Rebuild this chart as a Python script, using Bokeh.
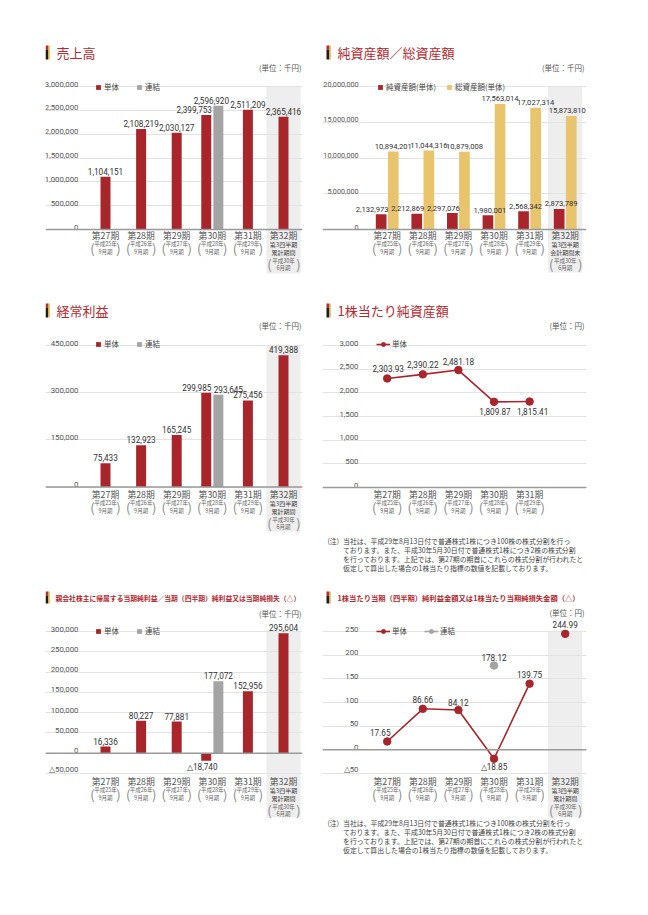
from bokeh.plotting import figure
from bokeh.models import Range1d, FixedTicker, Legend, LegendItem, Span
from bokeh.layouts import column, row
from bokeh.core.properties import value
from bokeh.embed import file_html
from bokeh.resources import INLINE

# ---------------- data ----------------
periods = ["第27期", "第28期", "第29期", "第30期", "第31期", "第32期"]
period_years = ["平成25年", "平成26年", "平成27年", "平成28年", "平成29年", "平成30年"]
period_months = ["9月期", "9月期", "9月期", "9月期", "9月期", "6月期"]
q3_cumulative = ["第3四半期", "累計期間"]
q3_period_end = ["第3四半期", "会計期間末"]

sales_single = [1104151, 2108219, 2030127, 2399753, 2511209, 2365416]
sales_consol = [None, None, None, 2596920, None, None]
net_assets = [2132973, 2212869, 2297076, 1980001, 2568342, 2873789]
total_assets = [10894201, 11044316, 10879008, 17563014, 17027314, 15873810]
ordinary_single = [75433, 132923, 165245, 299985, 275456, 419388]
ordinary_consol = [None, None, None, 293645, None, None]
bps_single = [2303.93, 2390.22, 2481.18, 1809.87, 1815.41]
profit_single = [16336, 80227, 77881, -18740, 152956, 295604]
profit_consol = [None, None, None, 177072, None, None]
eps_single = [17.65, 86.66, 84.12, -18.85, 139.75, 244.99]
eps_consol = [None, None, None, 178.12, None, None]

ticks_sales = [0, 500000, 1000000, 1500000, 2000000, 2500000, 3000000]
tick_labels_sales = ["0", "500,000", "1,000,000", "1,500,000", "2,000,000", "2,500,000", "3,000,000"]
ticks_assets = [0, 5000000, 10000000, 15000000, 20000000]
tick_labels_assets = ["0", "5,000,000", "10,000,000", "15,000,000", "20,000,000"]
ticks_ordinary = [0, 150000, 300000, 450000]
tick_labels_ordinary = ["0", "150,000", "300,000", "450,000"]
ticks_bps = [0, 500, 1000, 1500, 2000, 2500, 3000]
tick_labels_bps = ["0", "500", "1,000", "1,500", "2,000", "2,500", "3,000"]
ticks_profit = [-50000, 0, 50000, 100000, 150000, 200000, 250000, 300000]
tick_labels_profit = ["△50,000", "0", "50,000", "100,000", "150,000", "200,000", "250,000", "300,000"]
ticks_eps = [-50, 0, 50, 100, 150, 200, 250]
tick_labels_eps = ["△50", "0", "50", "100", "150", "200", "250"]

title_sales = "売上高"
title_assets = "純資産額／総資産額"
title_ordinary = "経常利益"
title_bps = "1株当たり純資産額"
title_profit = "親会社株主に帰属する当期純利益／当期（四半期）純利益又は当期純損失（△）"
title_eps = "1株当たり当期（四半期）純利益金額又は1株当たり当期純損失金額（△）"
unit_thousand = "(単位：千円)"
unit_yen = "(単位：円)"
legend_single = "単体"
legend_consol = "連結"
legend_net_assets = "純資産額(単体)"
legend_total_assets = "総資産額(単体)"
note_head = "(注)"
note_lines = [
    "当社は、平成29年8月13日付で普通株式1株につき100株の株式分割を行っ",
    "ております。また、平成30年5月30日付で普通株式1株につき2株の株式分割",
    "を行っております。上記では、第27期の期首にこれらの株式分割が行われたと",
    "仮定して算出した場合の1株当たり指標の数値を記載しております。",
]

# ---------------- style ----------------
RED = "#a8262b"
GRAY = "#a4a4a4"
GOLD = "#e8c46d"
SHADE = "#eeeeee"
GRID = "#e3e3e3"
BASE = "#9a9a9a"
TITLE_RED = "#b12a2f"
TXT = "#333333"
TICK_TXT = "#555555"
FONT_JP = "Noto Sans CJK JP"
FONT_NUM = "Roboto"
BAR_W = 0.28
PAIR_OFF = 0.17
LEG_DX = 7
LEG_DY = 9


def fmt(v, dec=0):
    s = f"{abs(v):,.{dec}f}"
    return ("△" + s) if v < 0 else s


def make_panel(side, top, height, v1, py1, v2, py2):
    if side == "L":
        pg_left, W, fl, fr, cat0 = 8, 314, 53, 310, 113.0
    else:
        pg_left, W, fl, fr, cat0 = 322, 318, 330, 594, 394.7
    step = 35.6
    xs = (fl - cat0) / step
    xe = (fr - cat0) / step
    k = (py2 - py1) / (v1 - v2)
    ye = v1 + (py1 - top) / k
    ys = v1 - (top + height - py1) / k
    p = figure(width=W, height=height, x_range=Range1d(xs, xe), y_range=Range1d(ys, ye),
               output_backend="svg", toolbar_location=None,
               x_axis_location=None, y_axis_location=None,
               min_border_left=fl - pg_left, min_border_right=pg_left + W - fr,
               min_border_top=0, min_border_bottom=0)
    p.outline_line_color = None
    p.background_fill_color = None
    p.border_fill_color = None
    p.xgrid.visible = False

    def X(px):
        return (px - cat0) / step

    def Y(py):
        return ye - (py - top) / k

    info = dict(side=side, fl=fl, fr=fr, top=top, height=height, X=X, Y=Y)
    return p, info


def txt(p, x, y, text, size, color, align="left", baseline="middle", font=FONT_JP,
        style="normal", x_off=0, y_off=0):
    p.text(x=x, y=y, text=text, text_font=value(font), text_font_size=value(f"{size}px"),
           text_color=color, text_align=align, text_baseline=baseline,
           text_font_style=style, x_offset=x_off, y_offset=y_off)


def decorate(p, info, title, title_py, title_size, title_style, unit, unit_py,
             ticks, tick_labels, n_cats, cat_py, sub32=None, shade_bottom=None, tick_size=7.8):
    X, Y = info["X"], info["Y"]
    left = info["side"] == "L"
    # shaded column for the 32nd period
    if sub32 is not None:
        p.quad(left=[5 - 0.48], right=[5 + 0.48], top=[max(ticks)], bottom=[Y(shade_bottom)],
               fill_color=SHADE, line_color=None, level="image")
    # grid
    p.ygrid.ticker = FixedTicker(ticks=ticks)
    p.ygrid.grid_line_color = GRID
    p.ygrid.grid_line_width = 1
    p.add_layout(Span(location=0, dimension="width", line_color=BASE, line_width=1.5))
    # tick labels
    tx = X(86 if left else 366)
    txt(p, [tx] * len(ticks), ticks, tick_labels, tick_size, TICK_TXT, align="right",
        baseline="bottom", font=FONT_NUM, y_off=0)
    # title icon
    ix = 53 if left else 334
    ih = 7 if title_size > 10 else 6
    p.quad(left=[X(ix)], right=[X(ix + 2.5)], top=[Y(title_py - ih)], bottom=[Y(title_py - ih + 4)],
           fill_color="#c3272d", line_color=None)
    p.quad(left=[X(ix)], right=[X(ix + 2.5)], top=[Y(title_py - ih + 4)], bottom=[Y(title_py + ih)],
           fill_color="#1c1c1c", line_color=None)
    p.quad(left=[X(ix + 2.5)], right=[X(ix + 4.2)], top=[Y(title_py - ih)], bottom=[Y(title_py + ih)],
           fill_color="#dcae4c", line_color=None)
    # title text
    tl = (64 if left else 345) if title_size > 10 else (63 if left else 345)
    txt(p, [X(tl)], [Y(title_py)], [title], title_size, TITLE_RED, style=title_style)
    # unit
    txt(p, [X(309 if left else 592)], [Y(unit_py)], [unit], 7.5, TICK_TXT, align="right")
    # category labels
    idx = list(range(n_cats))
    txt(p, idx, [Y(cat_py)] * n_cats, periods[:n_cats], 8.8, "#555555", align="center")
    m = min(n_cats, 5)
    txt(p, idx[:m], [Y(cat_py + 8.8)] * m, period_years[:m], 5.5, "#666666", align="center")
    txt(p, idx[:m], [Y(cat_py + 16.5)] * m, period_months[:m], 5.5, "#666666", align="center")
    txt(p, idx[:m], [Y(cat_py + 12.5)] * m, ["("] * m, 13, "#8a8a8a", align="center", x_off=-13)
    txt(p, idx[:m], [Y(cat_py + 12.5)] * m, [")"] * m, 13, "#8a8a8a", align="center", x_off=13)
    if sub32 is not None:
        txt(p, [5, 5], [Y(cat_py + 9), Y(cat_py + 17)], sub32, 6, "#444444", align="center")
        txt(p, [5, 5], [Y(cat_py + 25), Y(cat_py + 32)], [period_years[5], period_months[5]],
            5.5, "#666666", align="center")
        txt(p, [5], [Y(cat_py + 28.5)], ["("], 13, "#8a8a8a", align="center", x_off=-14)
        txt(p, [5], [Y(cat_py + 28.5)], [")"], 13, "#8a8a8a", align="center", x_off=15)


def add_legend(p, info, items, px_x, py_center, line=False, spacing=12):
    h = 10
    leg = Legend(items=items,
                 location=(px_x + LEG_DX - info["fl"],
                           info["top"] + info["height"] - (py_center + LEG_DY + h / 2)),
                 orientation="horizontal",
                 glyph_width=14 if line else 6, glyph_height=10 if line else 6,
                 label_standoff=2 if line else 3, spacing=spacing, padding=0, margin=0,
                 label_text_font=FONT_JP, label_text_font_size="7.5px", label_text_color="#444444",
                 label_height=6, border_line_color=None, background_fill_alpha=0)
    p.add_layout(leg)


def value_labels(p, xs, vals, texts, dxs, dys, size=8.2):
    p.text(x=xs, y=vals, text=texts, x_offset=dxs, y_offset=dys, text_align="center",
           text_baseline="middle", text_font=value(FONT_NUM), text_font_size=value(f"{size}px"),
           text_color=TXT)


def note(p, info, first_py):
    X, Y = info["X"], info["Y"]
    txt(p, [X(335)], [Y(first_py)], [note_head], 6.9, "#444444")
    txt(p, [X(350.5)] * 4, [Y(first_py + 9.1 * i) for i in range(4)], note_lines, 6.9, "#444444")


def single_consol_bars(p, single, consol, label_dx_single, label_dx_consol, dy_single):
    xs_s = [i - PAIR_OFF if consol[i] is not None else i for i in range(len(single))]
    r1 = p.vbar(x=xs_s, top=single, bottom=0, width=BAR_W, fill_color=RED, line_color=None)
    ci = [i for i in range(len(consol)) if consol[i] is not None]
    xs_c = [i + PAIR_OFF for i in ci]
    cv = [consol[i] for i in ci]
    r2 = p.vbar(x=xs_c, top=cv, bottom=0, width=BAR_W, fill_color=GRAY, line_color=None)
    value_labels(p, xs_s, single, [fmt(v) for v in single], label_dx_single, dy_single)
    value_labels(p, xs_c, cv, [fmt(v) for v in cv], label_dx_consol, [-5.5] * len(cv))
    return r1, r2


# ---------------- panel 1: 売上高 ----------------
p1, i1 = make_panel("L", 8, 292, 3000000, 94, 0, 237)
decorate(p1, i1, title_sales, 60, 13, "normal", unit_thousand, 75, ticks_sales, tick_labels_sales,
         6, 243, sub32=q3_cumulative, shade_bottom=281)
r1, r2 = single_consol_bars(p1, sales_single, sales_consol, [0, 0, 0, -12, 0, 0], [-7], [-5.5] * 6)
add_legend(p1, i1, [LegendItem(label=legend_single, renderers=[r1]),
                    LegendItem(label=legend_consol, renderers=[r2])], 96, 86)

# ---------------- panel 2: 純資産額／総資産額 ----------------
p2, i2 = make_panel("R", 8, 292, 20000000, 94, 0, 237)
decorate(p2, i2, title_assets, 60, 13, "normal", unit_thousand, 75, ticks_assets, tick_labels_assets,
         6, 243, sub32=q3_period_end, shade_bottom=280, tick_size=7.2)
xa = [i - PAIR_OFF for i in range(6)]
xb = [i + PAIR_OFF for i in range(6)]
ra = p2.vbar(x=xa, top=net_assets, bottom=0, width=0.3, fill_color=RED, line_color=None)
rb = p2.vbar(x=xb, top=total_assets, bottom=0, width=0.3, fill_color=GOLD, line_color=None)
value_labels(p2, xa, net_assets, [fmt(v) for v in net_assets], [-9, -9, -9, 2, 2, 2], [-5] * 6, size=7.6)
value_labels(p2, xb, total_assets, [fmt(v) for v in total_assets], [0, 0, 0, 0, 0, -4], [-5.5] * 6, size=7.6)
add_legend(p2, i2, [LegendItem(label=legend_net_assets, renderers=[ra]),
                    LegendItem(label=legend_total_assets, renderers=[rb])], 378, 86, spacing=10)

# ---------------- panel 3: 経常利益 ----------------
p3, i3 = make_panel("L", 300, 290, 450000, 353, 0, 494.5)
decorate(p3, i3, title_ordinary, 318, 13, "normal", unit_thousand, 333, ticks_ordinary,
         tick_labels_ordinary, 6, 502, sub32=q3_cumulative, shade_bottom=539)
r1, r2 = single_consol_bars(p3, ordinary_single, ordinary_consol, [0, 0, 0, -9.5, 0, 0], [10], [-5.5] * 6)
add_legend(p3, i3, [LegendItem(label=legend_single, renderers=[r1]),
                    LegendItem(label=legend_consol, renderers=[r2])], 96, 343)

# ---------------- panel 4: 1株当たり純資産額 ----------------
p4, i4 = make_panel("R", 300, 290, 3000, 353, 0, 495)
decorate(p4, i4, title_bps, 318, 13, "normal", unit_yen, 333, ticks_bps, tick_labels_bps, 5, 502)
xs4 = list(range(len(bps_single)))
l4 = p4.line(xs4, bps_single, line_color=RED, line_width=1.6)
s4 = p4.scatter(xs4, bps_single, size=7.5, fill_color=RED, line_color=RED)
value_labels(p4, xs4, bps_single, [fmt(v, 2) for v in bps_single], [1, 0, 0, 1, 3],
             [-9.5, -10, -9, 9.5, 9.5])
add_legend(p4, i4, [LegendItem(label=legend_single, renderers=[l4, s4])], 377, 343.3, line=True)
note(p4, i4, 548.3)

# ---------------- panel 5: 当期純利益 ----------------
p5, i5 = make_panel("L", 590, 315, 300000, 639, -50000, 781)
decorate(p5, i5, title_profit, 605, 6.8, "bold", unit_thousand, 621, ticks_profit, tick_labels_profit,
         6, 789, sub32=q3_cumulative, shade_bottom=825)
dy5 = [(-5.5 if v >= 0 else 6) for v in profit_single]
r1, r2 = single_consol_bars(p5, profit_single, profit_consol, [0, 0, 0, -4, 0, 0], [0], dy5)
add_legend(p5, i5, [LegendItem(label=legend_single, renderers=[r1]),
                    LegendItem(label=legend_consol, renderers=[r2])], 96, 630)

# ---------------- panel 6: 1株当たり当期純利益 ----------------
p6, i6 = make_panel("R", 590, 315, 250, 639, -50, 781)
decorate(p6, i6, title_eps, 605, 7.3, "bold", unit_yen, 620, ticks_eps, tick_labels_eps,
         6, 789, sub32=q3_cumulative, shade_bottom=825)
xs6 = list(range(len(eps_single)))
l6 = p6.line(xs6[:5], eps_single[:5], line_color=RED, line_width=1.6)
s6 = p6.scatter(xs6, eps_single, size=7.5, fill_color=RED, line_color=RED)
ci6 = [i for i in range(len(eps_consol)) if eps_consol[i] is not None]
cv6 = [eps_consol[i] for i in ci6]
lg6 = p6.line(ci6, cv6, line_color=GRAY, line_width=1.6)
sg6 = p6.scatter(ci6, cv6, size=7.5, fill_color=GRAY, line_color=GRAY)
value_labels(p6, xs6, eps_single, [fmt(v, 2) for v in eps_single], [-7, 0, 0, 0, 0, 0],
             [-9, -9, -8, 8, -9, -9])
value_labels(p6, ci6, cv6, [fmt(v, 2) for v in cv6], [0], [-8.5])
add_legend(p6, i6, [LegendItem(label=legend_single, renderers=[l6, s6]),
                    LegendItem(label=legend_consol, renderers=[lg6, sg6])], 377, 630, line=True, spacing=12)
note(p6, i6, 830)

layout = column(row(p1, p2), row(p3, p4), row(p5, p6))
with open("out.html", "w", encoding="utf-8") as f:
    f.write(file_html(layout, INLINE, title="chart"))
